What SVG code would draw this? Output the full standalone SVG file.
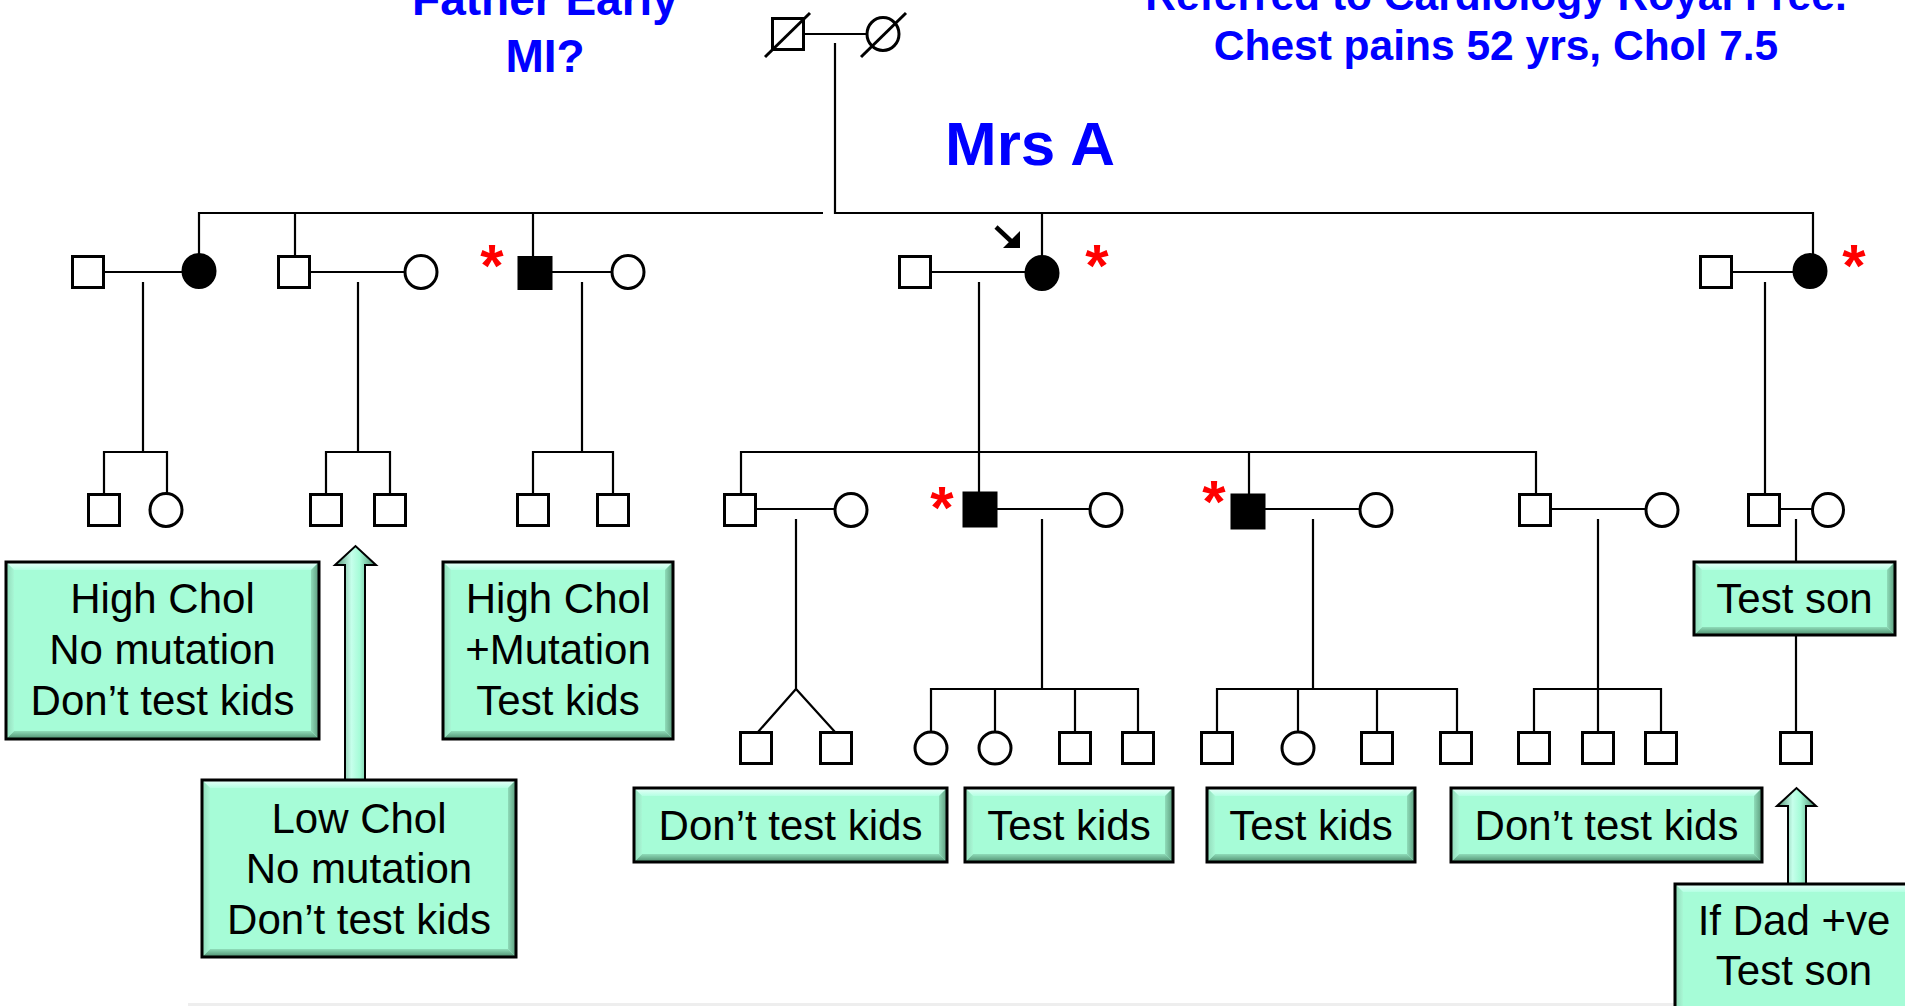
<svg xmlns="http://www.w3.org/2000/svg" width="1905" height="1006" viewBox="0 0 1905 1006">
<defs>
<linearGradient id="gTop" x1="0" y1="0" x2="0" y2="1"><stop offset="0" stop-color="#ecfffb"/><stop offset="1" stop-color="#b4ffe3"/></linearGradient>
<linearGradient id="gBot" x1="0" y1="0" x2="0" y2="1"><stop offset="0" stop-color="#8fdcb9"/><stop offset="1" stop-color="#4c8c6d"/></linearGradient>
<linearGradient id="gLeft" x1="0" y1="0" x2="1" y2="0"><stop offset="0" stop-color="#8fd9b8"/><stop offset="1" stop-color="#a8f7d5"/></linearGradient>
<linearGradient id="gRight" x1="0" y1="0" x2="1" y2="0"><stop offset="0" stop-color="#8fdcb9"/><stop offset="1" stop-color="#5a9a7b"/></linearGradient>
<linearGradient id="gArrow" x1="0" y1="0" x2="1" y2="0"><stop offset="0" stop-color="#4f8f70"/><stop offset="0.4" stop-color="#c6ffeb"/><stop offset="0.6" stop-color="#a6fcd8"/><stop offset="1" stop-color="#4a876a"/></linearGradient>
</defs>
<style>
.ln{stroke:#000;stroke-width:2.2;fill:none}
.sym{stroke:#000;stroke-width:3;fill:#fff}
.aff{stroke:#000;stroke-width:3;fill:#000}
.title{font-family:"Liberation Sans",Arial,sans-serif;font-weight:bold;fill:#0000ff;text-anchor:middle}
.ast{font-family:"Liberation Sans",Arial,sans-serif;font-weight:bold;fill:#ff0000;font-size:60px;text-anchor:middle}
.bt{font-family:"Liberation Sans",Arial,sans-serif;font-size:42px;fill:#000;text-anchor:middle}
.base{fill:#a6fcd7}
.edge{fill:none;stroke:#000;stroke-width:3}
.tp{fill:url(#gTop)}
.bm{fill:url(#gBot)}
.lf{fill:url(#gLeft)}
.rt{fill:url(#gRight)}
.arr{fill:url(#gArrow);stroke:#000;stroke-width:2}
</style>
<rect x="0" y="0" width="1905" height="1006" fill="#fff"/>
<rect x="188" y="1003" width="1717" height="3" fill="#eeeeee"/>

<!-- titles -->
<g id="title-father">
<text class="title" x="545" y="15" font-size="46">Father Early</text>
<text class="title" x="545" y="72" font-size="46">MI?</text>
</g>
<g id="title-referred">
<text class="title" x="1496" y="10" font-size="42.5">Referred to Cardiology Royal Free.</text>
<text class="title" x="1496" y="60" font-size="42.5">Chest pains 52 yrs, Chol 7.5</text>
</g>
<g id="title-mrsa"><text class="title" x="1030" y="165" font-size="62">Mrs A</text></g>

<!-- connectors -->
<g id="connectors">
<line class="ln" x1="803" y1="34" x2="867" y2="34"/>
<path class="ln" d="M835,43 V213 H1813 V254"/>
<path class="ln" d="M199,254 V213 H823"/>
<line class="ln" x1="295" y1="213" x2="295" y2="257"/>
<line class="ln" x1="533" y1="213" x2="533" y2="257"/>
<line class="ln" x1="1042" y1="213" x2="1042" y2="256"/>
<!-- gen II marriages and descents -->
<line class="ln" x1="103" y1="272" x2="182" y2="272"/>
<path class="ln" d="M143,282 V452 M104,494 V452 H167 V494"/>
<line class="ln" x1="310" y1="272" x2="405" y2="272"/>
<path class="ln" d="M358,282 V452 M326,494 V452 H390 V494"/>
<line class="ln" x1="552" y1="272" x2="612" y2="272"/>
<path class="ln" d="M582,282 V452 M533,494 V452 H613 V494"/>
<line class="ln" x1="932" y1="272" x2="1025" y2="272"/>
<path class="ln" d="M979,282 V452 M741,494 V452 H1536 V494 M979,452 V492 M1249,452 V494"/>
<line class="ln" x1="1732" y1="272" x2="1793" y2="272"/>
<line class="ln" x1="1765" y1="282" x2="1765" y2="494"/>
<!-- gen III marriages and descents -->
<line class="ln" x1="756" y1="509" x2="836" y2="509"/>
<path class="ln" d="M796,519 V689 M758,732 L796,689 L835,732"/>
<line class="ln" x1="997" y1="509" x2="1090" y2="509"/>
<path class="ln" d="M1042,519 V689 M931,732 V689 H1138 V732 M995,689 V732 M1075,689 V732"/>
<line class="ln" x1="1265" y1="509" x2="1360" y2="509"/>
<path class="ln" d="M1313,519 V689 M1217,732 V689 H1457 V732 M1298,689 V732 M1377,689 V732"/>
<line class="ln" x1="1551" y1="509" x2="1646" y2="509"/>
<path class="ln" d="M1598,519 V732 M1534,732 V689 H1661 V732"/>
<line class="ln" x1="1779" y1="509" x2="1812" y2="509"/>
<line class="ln" x1="1796" y1="519" x2="1796" y2="732"/>
<!-- proband arrow -->
<line x1="996" y1="227" x2="1012" y2="242" stroke="#000" stroke-width="4.5"/>
<polygon points="1003,248 1020,248 1020,231" fill="#000"/>
</g>

<!-- generation I -->
<g id="grandfather">
<rect class="sym" x="772.5" y="18.5" width="31" height="31"/>
<line x1="765" y1="57" x2="810" y2="13" stroke="#000" stroke-width="3"/>
</g>
<g id="grandmother">
<ellipse class="sym" cx="883" cy="34" rx="16" ry="16.5"/>
<line x1="861" y1="57" x2="906" y2="13" stroke="#000" stroke-width="3"/>
</g>

<!-- generation II -->
<g id="g2-husband1"><rect class="sym" x="72.5" y="256.5" width="31" height="31"/></g>
<g id="g2-daughter1"><ellipse class="aff" cx="199" cy="271" rx="16" ry="16.5"/></g>
<g id="g2-son1"><rect class="sym" x="278.5" y="256.5" width="31" height="31"/></g>
<g id="g2-wife1"><ellipse class="sym" cx="421" cy="272" rx="16" ry="16.5"/></g>
<g id="g2-son2"><rect class="aff" x="519" y="257.5" width="32" height="31"/><text class="ast" x="492" y="286">*</text></g>
<g id="g2-wife2"><ellipse class="sym" cx="628" cy="272" rx="16" ry="16.5"/></g>
<g id="g2-husbandA"><rect class="sym" x="899.5" y="256.5" width="31" height="31"/></g>
<g id="mrs-a"><ellipse class="aff" cx="1042" cy="273" rx="16" ry="16.5"/><text class="ast" x="1097" y="286">*</text></g>
<g id="g2-husband3"><rect class="sym" x="1700.5" y="256.5" width="31" height="31"/></g>
<g id="g2-daughter3"><ellipse class="aff" cx="1810" cy="271" rx="16" ry="16.5"/><text class="ast" x="1854" y="286">*</text></g>

<!-- generation III -->
<g id="g3-a1"><rect class="sym" x="88.5" y="494.5" width="31" height="31"/></g>
<g id="g3-a2"><ellipse class="sym" cx="166" cy="510" rx="16" ry="16.5"/></g>
<g id="g3-b1"><rect class="sym" x="310.5" y="494.5" width="31" height="31"/></g>
<g id="g3-b2"><rect class="sym" x="374.5" y="494.5" width="31" height="31"/></g>
<g id="g3-c1"><rect class="sym" x="517.5" y="494.5" width="31" height="31"/></g>
<g id="g3-c2"><rect class="sym" x="597.5" y="494.5" width="31" height="31"/></g>
<g id="g3-d1"><rect class="sym" x="724.5" y="494.5" width="31" height="31"/></g>
<g id="g3-d1-wife"><ellipse class="sym" cx="851" cy="510" rx="16" ry="16.5"/></g>
<g id="g3-d2"><rect class="aff" x="964" y="493" width="32" height="33"/><text class="ast" x="942" y="528">*</text></g>
<g id="g3-d2-wife"><ellipse class="sym" cx="1106" cy="510" rx="16" ry="16.5"/></g>
<g id="g3-d3"><rect class="aff" x="1232" y="495" width="32" height="33"/><text class="ast" x="1214" y="522">*</text></g>
<g id="g3-d3-wife"><ellipse class="sym" cx="1376" cy="510" rx="16" ry="16.5"/></g>
<g id="g3-d4"><rect class="sym" x="1519.5" y="494.5" width="31" height="31"/></g>
<g id="g3-d4-wife"><ellipse class="sym" cx="1662" cy="510" rx="16" ry="16.5"/></g>
<g id="g3-e1"><rect class="sym" x="1748.5" y="494.5" width="31" height="31"/></g>
<g id="g3-e1-wife"><ellipse class="sym" cx="1828" cy="510" rx="15.5" ry="16.5"/></g>

<!-- generation IV -->
<g id="g4-d1a"><rect class="sym" x="740.5" y="732.5" width="31" height="31"/></g>
<g id="g4-d1b"><rect class="sym" x="820.5" y="732.5" width="31" height="31"/></g>
<g id="g4-d2a"><ellipse class="sym" cx="931" cy="748" rx="16" ry="16"/></g>
<g id="g4-d2b"><ellipse class="sym" cx="995" cy="748" rx="16" ry="16"/></g>
<g id="g4-d2c"><rect class="sym" x="1059.5" y="732.5" width="31" height="31"/></g>
<g id="g4-d2d"><rect class="sym" x="1122.5" y="732.5" width="31" height="31"/></g>
<g id="g4-d3a"><rect class="sym" x="1201.5" y="732.5" width="31" height="31"/></g>
<g id="g4-d3b"><ellipse class="sym" cx="1298" cy="748" rx="16" ry="16"/></g>
<g id="g4-d3c"><rect class="sym" x="1361.5" y="732.5" width="31" height="31"/></g>
<g id="g4-d3d"><rect class="sym" x="1440.5" y="732.5" width="31" height="31"/></g>
<g id="g4-d4a"><rect class="sym" x="1518.5" y="732.5" width="31" height="31"/></g>
<g id="g4-d4b"><rect class="sym" x="1582.5" y="732.5" width="31" height="31"/></g>
<g id="g4-d4c"><rect class="sym" x="1645.5" y="732.5" width="31" height="31"/></g>
<g id="g4-e1"><rect class="sym" x="1780.5" y="732.5" width="31" height="31"/></g>

<!-- block arrows -->
<g id="arrow-lowchol"><polygon class="arr" points="345,780 345,565 335,565 355.5,546 376,565 365,565 365,780"/></g>
<g id="arrow-ifdad"><polygon class="arr" points="1788,884 1788,806 1777,806 1796.5,788 1816,806 1806,806 1806,884"/></g>

<!-- note boxes -->
<g id="box-highchol-nomut">
<rect class="base" x="6" y="562" width="313" height="177"/>
<polygon class="tp" points="6,562 319,562 311,570 14,570"/>
<polygon class="bm" points="6,739 319,739 311,731 14,731"/>
<polygon class="lf" points="6,562 14,570 14,731 6,739"/>
<polygon class="rt" points="319,562 311,570 311,731 319,739"/>
<rect class="edge" x="6" y="562" width="313" height="177"/>
<text class="bt" x="162.5" y="613">High Chol</text>
<text class="bt" x="162.5" y="664">No mutation</text>
<text class="bt" x="162.5" y="715">Don’t test kids</text>
</g>
<g id="box-highchol-mut">
<rect class="base" x="443" y="562" width="230" height="177"/>
<polygon class="tp" points="443,562 673,562 665,570 451,570"/>
<polygon class="bm" points="443,739 673,739 665,731 451,731"/>
<polygon class="lf" points="443,562 451,570 451,731 443,739"/>
<polygon class="rt" points="673,562 665,570 665,731 673,739"/>
<rect class="edge" x="443" y="562" width="230" height="177"/>
<text class="bt" x="558" y="613">High Chol</text>
<text class="bt" x="558" y="664">+Mutation</text>
<text class="bt" x="558" y="715">Test kids</text>
</g>
<g id="box-lowchol">
<rect class="base" x="202" y="780" width="314" height="177"/>
<polygon class="tp" points="202,780 516,780 508,788 210,788"/>
<polygon class="bm" points="202,957 516,957 508,949 210,949"/>
<polygon class="lf" points="202,780 210,788 210,949 202,957"/>
<polygon class="rt" points="516,780 508,788 508,949 516,957"/>
<rect class="edge" x="202" y="780" width="314" height="177"/>
<text class="bt" x="359" y="833">Low Chol</text>
<text class="bt" x="359" y="883">No mutation</text>
<text class="bt" x="359" y="934">Don’t test kids</text>
</g>
<g id="box-dont1">
<rect class="base" x="634" y="788" width="313" height="74"/>
<polygon class="tp" points="634,788 947,788 939,796 642,796"/>
<polygon class="bm" points="634,862 947,862 939,854 642,854"/>
<polygon class="lf" points="634,788 642,796 642,854 634,862"/>
<polygon class="rt" points="947,788 939,796 939,854 947,862"/>
<rect class="edge" x="634" y="788" width="313" height="74"/>
<text class="bt" x="790.5" y="840">Don’t test kids</text>
</g>
<g id="box-test1">
<rect class="base" x="965" y="788" width="208" height="74"/>
<polygon class="tp" points="965,788 1173,788 1165,796 973,796"/>
<polygon class="bm" points="965,862 1173,862 1165,854 973,854"/>
<polygon class="lf" points="965,788 973,796 973,854 965,862"/>
<polygon class="rt" points="1173,788 1165,796 1165,854 1173,862"/>
<rect class="edge" x="965" y="788" width="208" height="74"/>
<text class="bt" x="1069" y="840">Test kids</text>
</g>
<g id="box-test2">
<rect class="base" x="1207" y="788" width="208" height="74"/>
<polygon class="tp" points="1207,788 1415,788 1407,796 1215,796"/>
<polygon class="bm" points="1207,862 1415,862 1407,854 1215,854"/>
<polygon class="lf" points="1207,788 1215,796 1215,854 1207,862"/>
<polygon class="rt" points="1415,788 1407,796 1407,854 1415,862"/>
<rect class="edge" x="1207" y="788" width="208" height="74"/>
<text class="bt" x="1311" y="840">Test kids</text>
</g>
<g id="box-dont2">
<rect class="base" x="1451" y="788" width="311" height="74"/>
<polygon class="tp" points="1451,788 1762,788 1754,796 1459,796"/>
<polygon class="bm" points="1451,862 1762,862 1754,854 1459,854"/>
<polygon class="lf" points="1451,788 1459,796 1459,854 1451,862"/>
<polygon class="rt" points="1762,788 1754,796 1754,854 1762,862"/>
<rect class="edge" x="1451" y="788" width="311" height="74"/>
<text class="bt" x="1606.5" y="840">Don’t test kids</text>
</g>
<g id="box-testson">
<rect class="base" x="1694" y="562" width="201" height="73"/>
<polygon class="tp" points="1694,562 1895,562 1887,570 1702,570"/>
<polygon class="bm" points="1694,635 1895,635 1887,627 1702,627"/>
<polygon class="lf" points="1694,562 1702,570 1702,627 1694,635"/>
<polygon class="rt" points="1895,562 1887,570 1887,627 1895,635"/>
<rect class="edge" x="1694" y="562" width="201" height="73"/>
<text class="bt" x="1794.5" y="613">Test son</text>
</g>
<g id="box-ifdad">
<rect class="base" x="1675" y="884" width="240" height="131"/>
<polygon class="tp" points="1675,884 1915,884 1907,892 1683,892"/>
<polygon class="lf" points="1675,884 1683,892 1683,1015 1675,1015"/>
<rect class="edge" x="1675" y="884" width="240" height="131"/>
<text class="bt" x="1794" y="935">If Dad +ve</text>
<text class="bt" x="1794" y="985">Test son</text>
</g>
</svg>
